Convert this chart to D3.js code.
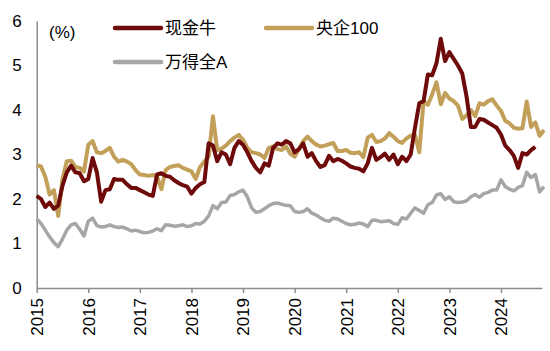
<!DOCTYPE html>
<html>
<head>
<meta charset="utf-8">
<script src="https://cdn.jsdelivr.net/npm/d3@7"></script>
<style>
  body { margin: 0; background: #fff; }
  svg text { font-family: "Liberation Sans", Arial, sans-serif; fill: #000; }
</style>
</head>
<body>
<svg id="chart" width="550" height="351"></svg>
<script>
// monthly values, starting Jan 2015
const seriesNames = ["现金牛", "央企100", "万得全A"];
const seriesColors = ["#6E0A0A", "#C3A05A", "#A6A6A6"];

const cashCow = [
  2.07, 2.0, 1.82, 1.92, 1.78, 1.85, 2.3, 2.6, 2.75, 2.6, 2.58, 2.4,
  2.45, 2.92, 2.6, 1.94, 2.2, 2.22, 2.45, 2.43, 2.43, 2.33, 2.25, 2.25,
  2.2, 2.15, 2.1, 2.07, 2.55, 2.58, 2.52, 2.5, 2.42, 2.36, 2.31, 2.28,
  2.12, 2.25, 2.33, 2.38, 3.25, 3.2, 2.85, 3.05, 3.0, 2.78, 3.15, 3.3,
  3.22, 3.05, 2.85, 2.7, 2.6, 2.8, 2.75, 3.15, 3.25, 3.22, 3.3, 3.25,
  3.05, 3.12, 3.25, 2.95, 3.03, 2.85, 2.72, 2.76, 2.97, 2.85, 2.9, 2.86,
  2.8, 2.73, 2.7, 2.68, 2.62, 2.8, 3.15, 2.88, 2.94, 3.02, 2.88, 3.0,
  2.78, 2.95, 2.85, 3.0, 3.6, 4.15, 4.2, 4.8, 4.78, 5.05, 5.6, 5.1,
  5.3, 5.15, 5.0, 4.82, 4.3, 3.62, 3.62, 3.8, 3.78, 3.72, 3.66, 3.6,
  3.45, 3.2, 3.1, 2.97, 2.7, 3.03, 3.0, 3.1, 3.17
];

const soe100 = [
  2.76, 2.73, 2.5, 2.1, 2.2, 1.62, 2.45, 2.85, 2.86, 2.72, 2.7, 2.62,
  3.22, 3.3, 3.05, 3.03, 3.08, 3.15, 2.95, 2.84, 2.88, 2.84, 2.78, 2.65,
  2.55, 2.54, 2.52, 2.54, 2.5, 2.22, 2.65, 2.72, 2.74, 2.76, 2.7, 2.66,
  2.62, 2.45, 2.72, 2.84, 2.95, 3.86, 3.1, 3.13, 3.2, 3.3, 3.38, 3.44,
  3.33, 3.15, 3.05, 3.03, 3.0, 2.92, 3.15, 3.18, 3.12, 3.1, 3.18, 3.02,
  2.95, 3.12, 3.3, 3.4, 3.3, 3.22, 3.18, 3.2, 3.23, 3.26, 3.08, 3.08,
  3.1, 3.04, 3.03, 3.05, 2.94, 3.38, 3.44, 3.28, 3.3, 3.36, 3.48, 3.4,
  3.3, 3.26, 3.36, 3.42, 3.44, 3.05, 4.2, 4.12, 4.35, 4.62, 4.13, 4.38,
  4.26, 4.2, 4.1, 3.8, 3.88, 4.0, 3.86, 4.15, 4.12, 4.2, 4.24, 4.1,
  3.98, 3.76, 3.7, 3.6, 3.58, 3.59, 4.19, 3.62, 3.72, 3.42, 3.55
];

const windA = [
  1.55, 1.45, 1.3, 1.15, 1.02, 0.93, 1.1, 1.3, 1.42, 1.45, 1.32, 1.17,
  1.5, 1.57, 1.4, 1.37, 1.38, 1.42, 1.38, 1.36, 1.37, 1.33, 1.28, 1.3,
  1.27, 1.24, 1.25, 1.28, 1.33, 1.29, 1.42, 1.41, 1.39, 1.4, 1.42, 1.38,
  1.4, 1.45, 1.44, 1.5, 1.62, 1.85, 1.78, 1.92, 1.93, 2.08, 2.1, 2.16,
  2.2, 2.05, 1.8, 1.7, 1.72, 1.78, 1.85, 1.9, 1.91, 1.88, 1.86, 1.85,
  1.72, 1.7, 1.72, 1.78, 1.68, 1.64, 1.58, 1.52, 1.5, 1.57, 1.55, 1.5,
  1.45, 1.42, 1.43, 1.46, 1.44, 1.38, 1.52, 1.52, 1.49, 1.5, 1.51, 1.45,
  1.43, 1.58, 1.55, 1.68, 1.8, 1.74, 1.68, 1.87, 1.92, 2.09, 2.12, 1.99,
  2.05, 1.94, 1.92, 1.93, 1.96, 2.05, 2.1, 2.04, 2.12, 2.15, 2.2, 2.2,
  2.43, 2.28, 2.22, 2.18, 2.26, 2.3, 2.6, 2.48, 2.55, 2.16, 2.28
];

const yearLabels = ["2015", "2016", "2017", "2018", "2019", "2020", "2021", "2022", "2023", "2024"];
const yTicks = [0, 1, 2, 3, 4, 5, 6];

const svg = d3.select("#chart");
const plot = { left: 36.7, right: 541.7, top: 21, bottom: 288 };

const x = d3.scaleLinear().domain([2015, 2024.79]).range([plot.left, plot.right]);
const y = d3.scaleLinear().domain([0, 6]).range([plot.bottom, plot.top]);

const axisColor = "#8c8c8c";

// y axis: plain line + labels, no tick marks
const yAxis = svg.append("g")
  .attr("transform", "translate(" + plot.left + ",0)")
  .call(d3.axisLeft(y).tickValues(yTicks).tickSize(0).tickPadding(15).tickFormat(d3.format("d")));
yAxis.select(".domain").attr("stroke", axisColor).attr("stroke-width", 1.5);
yAxis.selectAll("text").style("font-size", "17px");

// x axis
const xAxis = svg.append("g")
  .attr("transform", "translate(0," + plot.bottom + ")")
  .call(d3.axisBottom(x)
    .tickValues(yearLabels.map(Number))
    .tickSize(5).tickSizeOuter(0)
    .tickFormat(d3.format("d")));
xAxis.select(".domain").attr("stroke", axisColor).attr("stroke-width", 1.5);
xAxis.selectAll(".tick line").attr("stroke", axisColor).attr("stroke-width", 1.5);
xAxis.selectAll("text")
  .style("font-size", "17px")
  .attr("text-anchor", "end")
  .attr("transform", "rotate(-90)")
  .attr("x", -10)
  .attr("y", 0)
  .attr("dy", "0.35em");

const line = d3.line()
  .x((d, i) => x(2015 + i / 12))
  .y(d => y(d));

const allSeries = [windA, soe100, cashCow];
const drawColors = [seriesColors[2], seriesColors[1], seriesColors[0]];
const widths = [3.5, 4, 4];

svg.append("g").selectAll("path")
  .data(allSeries)
  .enter()
  .append("path")
  .attr("d", line)
  .attr("fill", "none")
  .attr("stroke", (d, i) => drawColors[i])
  .attr("stroke-width", (d, i) => widths[i])
  .attr("stroke-linejoin", "round");

// unit label
svg.append("text")
  .attr("x", 49).attr("y", 32)
  .attr("dy", "0.35em")
  .style("font-size", "17px")
  .text("(%)");

// legend
const legendItems = [
  { name: seriesNames[0], color: seriesColors[0], x: 115, y: 28 },
  { name: seriesNames[1], color: seriesColors[1], x: 266, y: 28 },
  { name: seriesNames[2], color: seriesColors[2], x: 115, y: 62 }
];

const legend = svg.append("g").selectAll("g")
  .data(legendItems)
  .enter()
  .append("g")
  .attr("transform", d => "translate(" + d.x + "," + d.y + ")");

legend.append("line")
  .attr("x1", 0).attr("x2", 46)
  .attr("y1", 0).attr("y2", 0)
  .attr("stroke", d => d.color)
  .attr("stroke-width", 4.5)
  .attr("stroke-linecap", "round");

legend.append("text")
  .attr("x", 50)
  .attr("dy", "0.35em")
  .style("font-size", "17px")
  .style("font-family", "'Liberation Sans', 'Noto Sans CJK SC', sans-serif")
  .text(d => d.name);
</script>
</body>
</html>
